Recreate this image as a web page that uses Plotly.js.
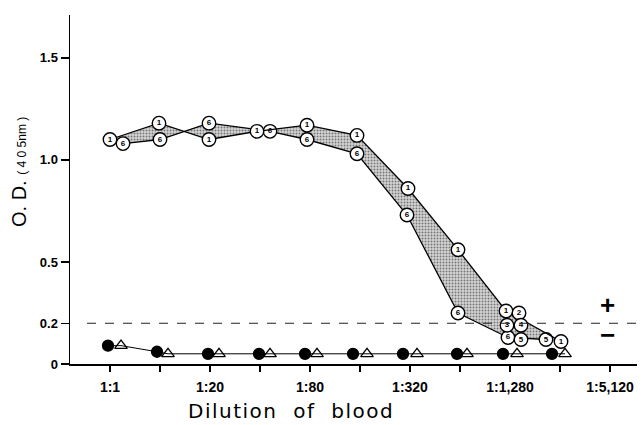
<!DOCTYPE html>
<html>
<head>
<meta charset="utf-8">
<script src="https://cdn.plot.ly/plotly-3.0.1.min.js"></script>
<style>html,body{margin:0;padding:0;background:#fff;}#chart{width:644px;height:425px;}</style>
</head>
<body>
<div id="chart"></div>
<script>
// Tick positions (dilution steps) and labels
const tickPos = [0,1,2,3,4,5,6,7,8,9,10];
const tickLabels = ['1:1','','1:20','','1:80','','1:320','','1:1,280','','1:5,120'];
const yTickVals = [0, 0.2, 0.5, 1.0, 1.5];
const yTickLabels = ['0', '0.2', '0.5', '1.0', '1.5'];

// Sample 1 (upper boundary)
const s1X = [0, 0.98, 1.98, 2.94, 3.94, 4.94, 5.96, 6.96, 7.92, 9.02];
const s1Y = [1.10, 1.18, 1.10, 1.14, 1.17, 1.12, 0.86, 0.56, 0.26, 0.11];
const s1Labels = ['1','1','1','1','1','1','1','1','1','1'];

// Sample 6 (lower boundary)
const s6X = [0.26, 1.0, 1.98, 3.2, 3.94, 4.94, 5.94, 6.96, 7.96, 8.72];
const s6Y = [1.08, 1.10, 1.18, 1.14, 1.10, 1.03, 0.73, 0.25, 0.13, 0.12];
const s6Labels = ['6','6','6','6','6','6','6','6','6','5'];

// Other samples at 1:1,280
const otherX = [8.18, 7.94, 8.22, 8.22];
const otherY = [0.25, 0.19, 0.19, 0.12];
const otherLabels = ['2','3','4','5'];

// Negative controls
const negDotX = [-0.04, 0.94, 1.96, 2.98, 3.9, 4.86, 5.86, 6.94, 7.86, 8.84];
const negDotY = [0.09, 0.06, 0.05, 0.05, 0.05, 0.05, 0.05, 0.05, 0.05, 0.05];
const negTriX = [0.22, 1.16, 2.18, 3.2, 4.14, 5.14, 6.14, 7.14, 8.14, 9.1];
const negTriY = [0.09, 0.05, 0.05, 0.05, 0.05, 0.05, 0.05, 0.05, 0.05, 0.05];

const cutoff = 0.2;

// interleave negatives
const negX = [], negY = [], negSym = [];
for (let i = 0; i < negDotX.length; i++) {
  negX.push(negDotX[i], negTriX[i]);
  negY.push(negDotY[i], negTriY[i]);
  negSym.push('circle', 'triangle-up-open');
}

const labelFont = {family: 'Liberation Sans, Arial, sans-serif', size: 8, color: '#000', weight: 'bold'};
const circMarker = {symbol: 'circle', size: 13.5, color: '#fff', line: {color: '#000', width: 1.4}};

const traces = [
  {x: s6X, y: s6Y, mode: 'lines', line: {width: 0, color: 'rgba(0,0,0,0)'}, hoverinfo: 'skip', showlegend: false},
  {x: s1X, y: s1Y, mode: 'lines', line: {width: 0, color: 'rgba(0,0,0,0)'}, fill: 'tonexty',
   fillcolor: 'rgba(190,190,190,0.9)',
   fillpattern: {shape: '.', fgcolor: '#777', bgcolor: '#d6d6d6', size: 3, solidity: 0.35},
   hoverinfo: 'skip', showlegend: false},
  {x: s6X, y: s6Y, mode: 'lines+markers+text', text: s6Labels, textposition: 'middle center',
   textfont: labelFont, line: {color: '#000', width: 1.3}, marker: circMarker, showlegend: false},
  {x: s1X, y: s1Y, mode: 'lines+markers+text', text: s1Labels, textposition: 'middle center',
   textfont: labelFont, line: {color: '#000', width: 1.3}, marker: circMarker, showlegend: false},
  {x: otherX, y: otherY, mode: 'markers+text', text: otherLabels, textposition: 'middle center',
   textfont: labelFont, marker: circMarker, showlegend: false},
  {x: negX, y: negY, mode: 'lines+markers', line: {color: '#000', width: 1},
   marker: {symbol: negSym, size: 11, color: '#000', line: {color: '#000', width: 1.3}}, showlegend: false}
];

const layout = {
  width: 644, height: 425,
  margin: {l: 70, r: 7, t: 15, b: 61},
  paper_bgcolor: '#fff', plot_bgcolor: '#fff',
  font: {family: 'Liberation Sans, Arial, sans-serif', color: '#000'},
  xaxis: {
    range: [-0.8, 10.54], showgrid: false, zeroline: false,
    showline: true, linecolor: '#000', linewidth: 1.5,
    tickmode: 'array', tickvals: tickPos, ticktext: tickLabels,
    ticks: 'outside', ticklen: 6, tickwidth: 1.3, tickcolor: '#000',
    ticklabelstandoff: 4,
    tickfont: {size: 14, weight: 'bold', family: 'Liberation Sans, Arial, sans-serif'}
  },
  yaxis: {
    range: [0, 1.71], showgrid: false, zeroline: false,
    showline: true, linecolor: '#000', linewidth: 1.5,
    tickmode: 'array', tickvals: yTickVals, ticktext: yTickLabels,
    ticks: 'outside', ticklen: 8, tickwidth: 1.3, tickcolor: '#000',
    tickfont: {size: 13, weight: 'bold', family: 'Liberation Sans, Arial, sans-serif'}
  },
  shapes: [
    {type: 'line', xref: 'paper', yref: 'y', x0: 0.03, x1: 1, y0: cutoff, y1: cutoff,
     line: {color: '#222', width: 1.1, dash: 'dash'}}
  ],
  annotations: [
    {xref: 'paper', yref: 'paper', x: 0.39, y: -0.135, yanchor: 'middle', xanchor: 'center', showarrow: false,
     text: "<span style='letter-spacing:1.5px'>Dilution&nbsp;&nbsp;of&nbsp;&nbsp;blood</span>",
     font: {family: 'DejaVu Sans, sans-serif', size: 20, color: '#000'}},
    {xref: 'paper', yref: 'paper', x: -0.09, y: 0.55, xanchor: 'center', yanchor: 'middle', showarrow: false, textangle: -90,
     text: "O. D. <span style='font-size:12px'>( 4 0 5nm )</span>",
     font: {family: 'Liberation Sans, Arial, sans-serif', size: 20, color: '#000'}},
    {xref: 'x', yref: 'y', x: 9.94, y: 0.29, showarrow: false, text: '+',
     font: {size: 26, weight: 'bold', color: '#000'}},
    {xref: 'x', yref: 'y', x: 9.94, y: 0.14, showarrow: false, text: '−',
     font: {size: 26, weight: 'bold', color: '#000'}}
  ]
};

Plotly.newPlot('chart', traces, layout, {displayModeBar: false, staticPlot: true});
</script>
</body>
</html>
